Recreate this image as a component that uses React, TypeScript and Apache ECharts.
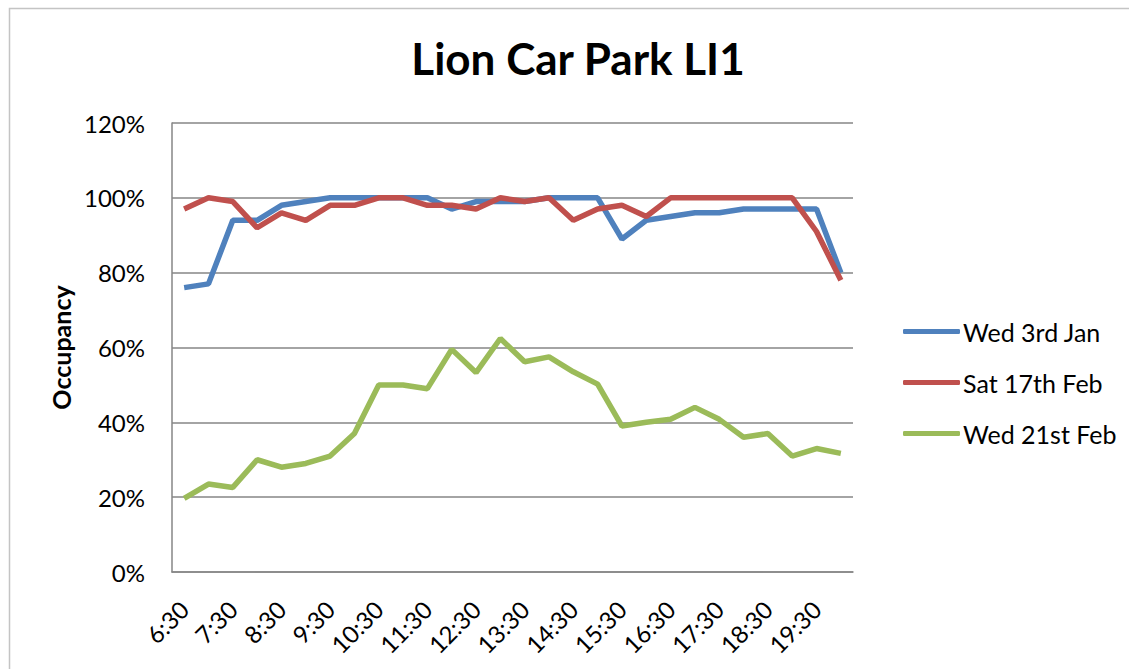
import React, { useEffect, useRef } from "react";
import * as echarts from "echarts";

const categories = [
  "6:30", "7:00", "7:30", "8:00", "8:30", "9:00", "9:30", "10:00", "10:30", "11:00",
  "11:30", "12:00", "12:30", "13:00", "13:30", "14:00", "14:30", "15:00", "15:30", "16:00",
  "16:30", "17:00", "17:30", "18:00", "18:30", "19:00", "19:30", "20:00",
];

const wed3Jan = [
  76, 77, 94, 94, 98, 99, 100, 100, 100, 100,
  100, 97, 99, 99, 99, 100, 100, 100, 89, 94,
  95, 96, 96, 97, 97, 97, 97, 80,
];

const sat17Feb = [
  97, 100, 99, 92, 96, 94, 98, 98, 100, 100,
  98, 98, 97, 100, 99, 100, 94, 97, 98, 95,
  100, 100, 100, 100, 100, 100, 91, 78,
];

const wed21Feb = [
  19.7, 23.5, 22.6, 30, 28, 29, 31, 37, 50, 50,
  49, 59.5, 53.3, 62.4, 56.2, 57.5, 53.5, 50.2, 39, 40,
  40.8, 44, 40.8, 36, 37, 31, 33, 31.7,
];

const seriesNames = ["Wed 3rd Jan", "Sat 17th Feb", "Wed 21st Feb"];
const colors = ["#4F81BD", "#C0504D", "#9BBB59"];
const FONT = "Lato";

export default function App() {
  const ref = useRef<HTMLDivElement>(null);
  useEffect(() => {
    if (!ref.current) return;
    const chart = echarts.init(ref.current, undefined, { renderer: "svg" });
    const dataSets = [wed3Jan, sat17Feb, wed21Feb];
    chart.setOption({
      animation: false,
      backgroundColor: "#ffffff",
      title: {
        text: "Lion Car Park LI1",
        left: 573,
        textAlign: "center",
        top: 31,
        textStyle: { fontFamily: FONT, fontWeight: "bold", fontSize: 44, color: "#000" },
      },
      graphic: [
        {
          type: "rect",
          shape: { x: 9.5, y: 8.5, width: 1300, height: 800 },
          style: { fill: "none", stroke: "#c4c4c4", lineWidth: 1.5 },
          silent: true,
        },
      ],
      grid: { left: 172, right: 276, top: 123, bottom: 97, containLabel: false },
      legend: {
        orient: "vertical",
        left: 898,
        top: 314,
        itemWidth: 57,
        itemHeight: 5,
        itemGap: 26,
        icon: "roundRect",
        data: seriesNames,
        textStyle: { fontFamily: FONT, fontSize: 25, color: "#000", lineHeight: 24, padding: [0, 0, 0, -2] },
      },
      xAxis: {
        type: "category",
        data: categories,
        boundaryGap: true,
        axisLine: { lineStyle: { color: "#868686", width: 1.5 } },
        axisTick: { show: false },
        axisLabel: {
          interval: 1,
          rotate: 45,
          fontFamily: FONT,
          fontSize: 24,
          color: "#000",
          margin: 33,
        },
      },
      yAxis: {
        type: "value",
        min: 0,
        max: 120,
        interval: 20,
        name: "Occupancy",
        nameLocation: "middle",
        nameGap: 97,
        nameTextStyle: { fontFamily: FONT, fontWeight: "bold", fontSize: 25, color: "#000" },
        axisLine: { show: true, lineStyle: { color: "#868686", width: 1.5 } },
        axisTick: { show: false },
        splitLine: { lineStyle: { color: "#868686", width: 1.5 } },
        axisLabel: {
          formatter: "{value}%",
          fontFamily: FONT,
          fontSize: 24,
          color: "#000",
          margin: 27,
        },
      },
      series: dataSets.map((d, i) => ({
        name: seriesNames[i],
        type: "line",
        data: d,
        symbol: "none",
        lineStyle: { color: colors[i], width: 5.5 },
        itemStyle: { color: colors[i] },
      })),
    });
    return () => chart.dispose();
  }, []);
  return (
    <div
      ref={ref}
      style={{ position: "fixed", left: 0, top: 0, width: 1129, height: 669, background: "#fff" }}
    />
  );
}
